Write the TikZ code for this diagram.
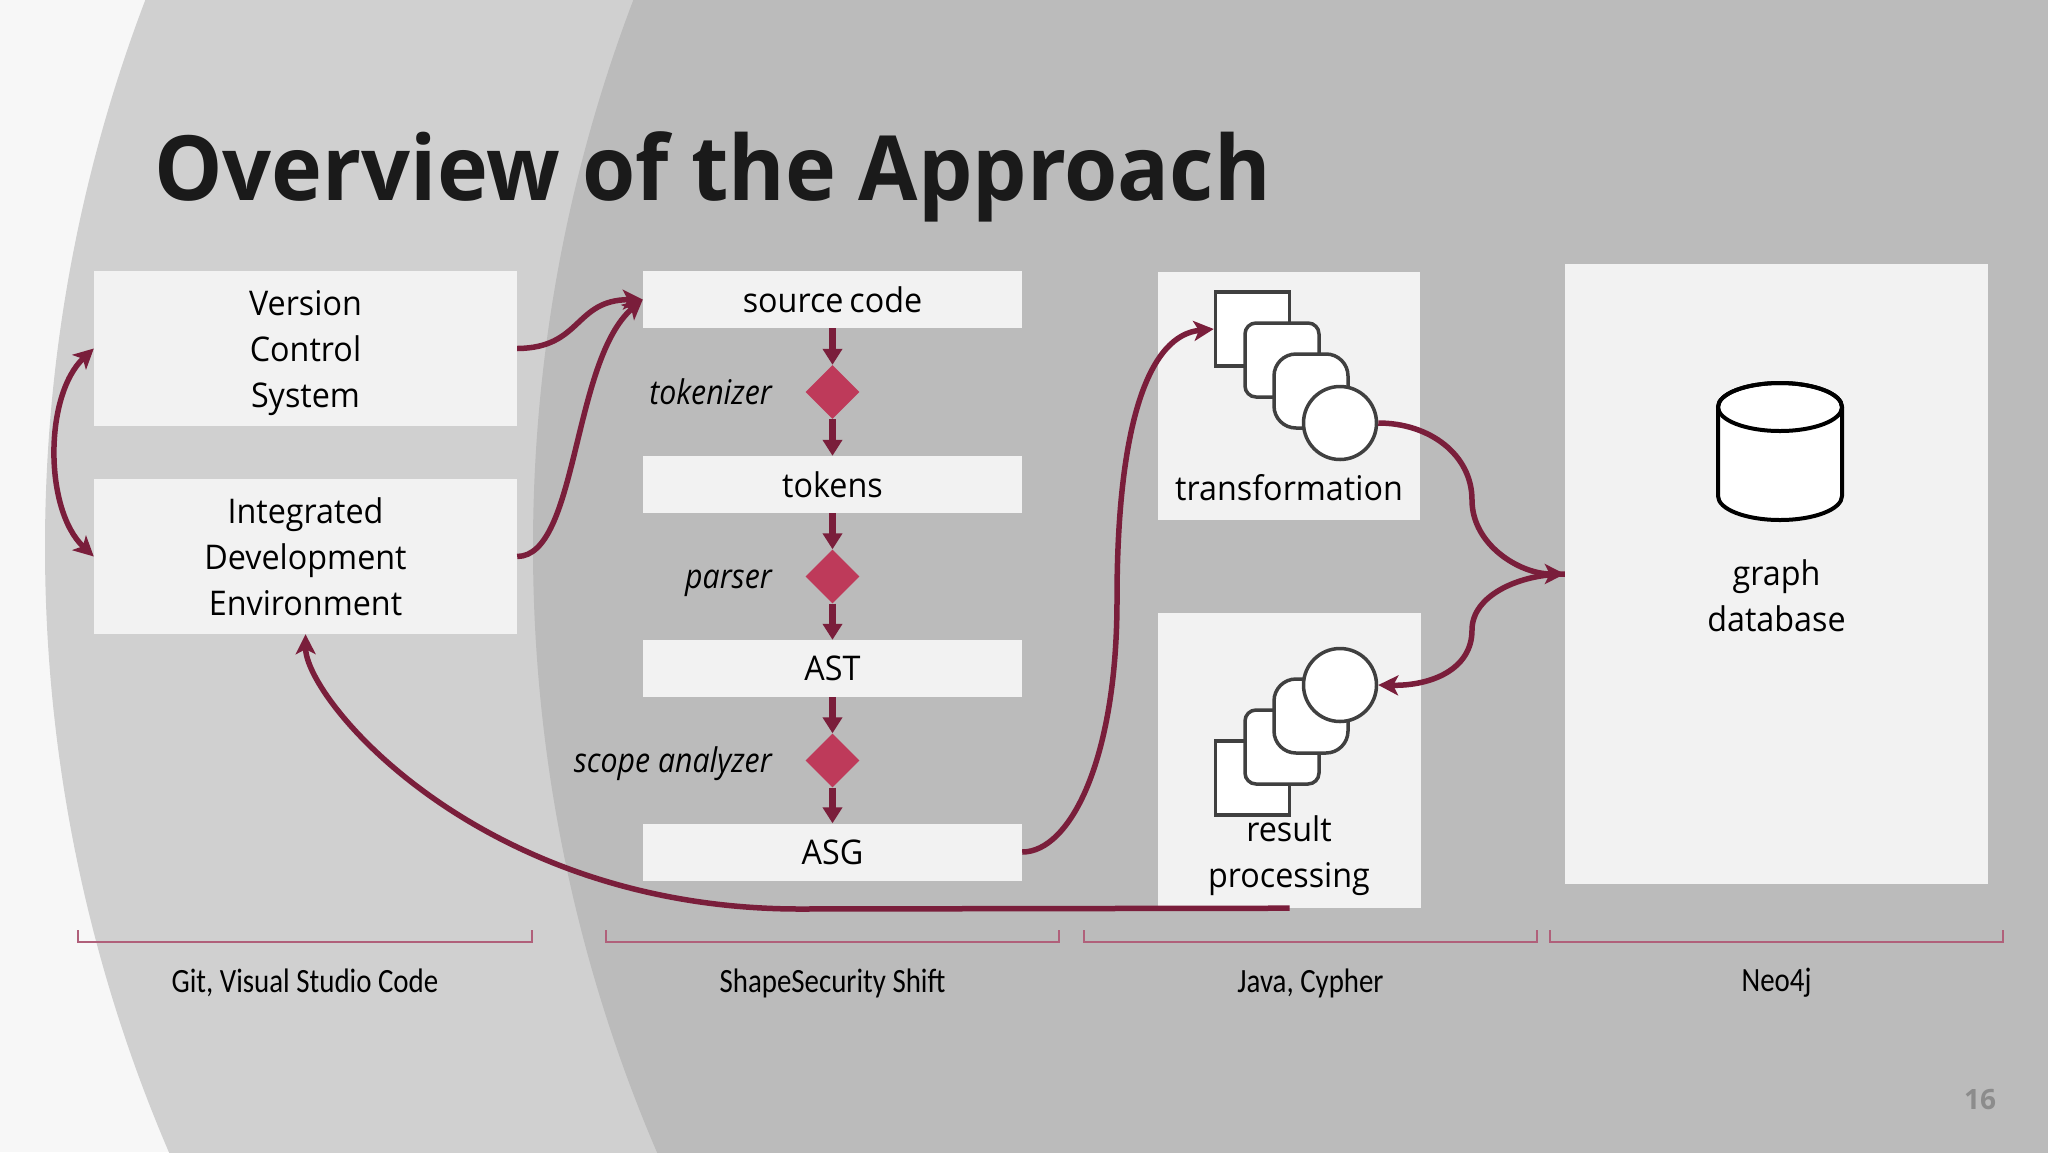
\documentclass[tikz,border=0pt]{standalone}
\usepackage{fontspec}
\setmainfont{Open Sans}[FakeStretch=0.95, WordSpace=0.7]
\newfontfamily\stagefont{Open Sans}[FakeStretch=0.89]
\newfontfamily\titlefont{Open Sans}[FakeStretch=0.957]
\newfontfamily\pagefont{Open Sans}
\newfontfamily\labelfont{Carlito}[FakeStretch=0.85]
\usetikzlibrary{arrows.meta,shapes.geometric}
\definecolor{bgwhite}{HTML}{F7F7F7}
\definecolor{bglight}{HTML}{D0D0D0}
\definecolor{bgdark}{HTML}{BBBBBB}
\definecolor{boxfill}{HTML}{F2F2F2}
\definecolor{wine}{HTML}{7A1E3B}
\definecolor{diafill}{HTML}{BE3A5A}
\definecolor{brk}{HTML}{B0607A}
\definecolor{icongray}{HTML}{404040}
\definecolor{titletext}{HTML}{1A1A1A}
\begin{document}
\begin{tikzpicture}[x=1pt,y=-1pt,
  panel/.style={fill=boxfill, draw=none, inner sep=0pt, align=center,
    font=\fontsize{34}{46}\selectfont, text=black},
  diam/.style={diamond, fill=diafill, draw=none, minimum width=54pt, minimum height=54pt, inner sep=0pt},
  stagelbl/.style={anchor=east, inner sep=0pt, text height=30pt, text depth=6pt,
    font=\stagefont\itshape\fontsize{34}{46}\selectfont, text=black},
  pipe/.style={draw=wine, line width=7pt, -{Triangle[width=19pt,length=16pt]}},
  conn/.style={draw=wine, line width=5.5pt, -{Stealth[width=20pt,length=20pt,inset=5pt]}},
  conn2/.style={draw=wine, line width=5.5pt, {Stealth[width=20pt,length=20pt,inset=5pt]}-{Stealth[width=20pt,length=20pt,inset=5pt]}},
  txt/.style={inner sep=0pt, align=center, font=\fontsize{34}{46}\selectfont, text=black},
  sq/.style={rectangle, draw=icongray, fill=white, line width=3.5pt, minimum width=74pt, minimum height=74pt, inner sep=0pt},
  rsq/.style={sq, rounded corners=11pt},
  rsqb/.style={sq, rounded corners=22pt},
  circ/.style={circle, draw=icongray, fill=white, line width=3.5pt, minimum size=73pt, inner sep=0pt},
  brace/.style={draw=brk, line width=1.6pt},
  foot/.style={inner sep=0pt, font=\labelfont\fontsize{34}{40}\selectfont, text=black}
]
% background
\useasboundingbox (0,0) rectangle (2048,1152);
\begin{scope}
\clip (0,0) rectangle (2048,1152);
\fill[bgwhite] (0,0) rectangle (2048,1152);
\fill[bglight] (1580,547) circle[radius=1535pt];
\fill[bgdark] (2068,547) circle[radius=1535pt];
\end{scope}

% title
\node[anchor=base west, inner sep=0pt, text=titletext,
  font=\titlefont\bfseries\fontsize{90}{100}\selectfont] (title) at (154,200) {Overview of the Approach};

% left boxes
\node[panel, minimum width=423pt, minimum height=155pt] (vcs) at (305.5,348.5) {};
\node[txt] (vcstxt) at (305.5,353.5) {Version\\Control\\System};
\node[panel, minimum width=423pt, minimum height=155pt] (ide) at (305.5,556.5) {Integrated\\Development\\Environment};

% pipeline
\node[panel, minimum width=379pt, minimum height=57pt] (src) at (832.5,299.5) {source code};
\node[panel, minimum width=379pt, minimum height=57pt] (tok) at (832.5,484.5) {tokens};
\node[panel, minimum width=379pt, minimum height=57pt] (ast) at (832.5,668.5) {AST};
\node[panel, minimum width=379pt, minimum height=57pt] (asg) at (832.5,852) {ASG};
\node[diam] (d1) at (832.5,392) {};
\node[diam] (d2) at (832.5,576.5) {};
\node[diam] (d3) at (832.5,760.5) {};
\node[stagelbl] (l1) at (772,392) {tokenizer};
\node[stagelbl] (l2) at (772,576.5) {parser};
\node[stagelbl] (l3) at (772,760.5) {scope analyzer};
\draw[pipe] (src.south) -- (d1.north);
\draw[pipe] (d1.south) -- (tok.north);
\draw[pipe] (tok.south) -- (d2.north);
\draw[pipe] (d2.south) -- (ast.north);
\draw[pipe] (ast.south) -- (d3.north);
\draw[pipe] (d3.south) -- (asg.north);

% transformation
\node[panel, minimum width=262pt, minimum height=248pt] (trbox) at (1289,396) {};
\node[sq] (t1) at (1252.5,329) {};
\node[rsq] (t2) at (1282,360) {};
\node[rsqb] (t3) at (1311,391) {};
\node[circ] (t4) at (1340,423) {};
\node[txt] (trtxt) at (1289,488) {transformation};

% result processing
\node[panel, minimum width=263pt, minimum height=295pt] (rpbox) at (1289.5,760.5) {};
\node[sq] (r1) at (1252.5,778) {};
\node[rsq] (r2) at (1282,747) {};
\node[rsqb] (r3) at (1311,716) {};
\node[circ] (r4) at (1340,685) {};
\node[txt] (rptxt) at (1289,855.5) {result\\processing};

% graph database
\node[panel, minimum width=423pt, minimum height=620pt] (dbbox) at (1776.5,574) {};
\filldraw[fill=white, draw=black, line width=4pt, line join=round]
  (1718,407) -- (1718,496) arc[start angle=180, end angle=0, x radius=62, y radius=24]
  -- (1842,407) arc[start angle=0, end angle=-180, x radius=62, y radius=24] -- cycle;
\draw[black, line width=4pt] (1780,407) ellipse[x radius=62, y radius=24];
\node[txt] (dbtxt) at (1776.5,596) {graph\\database};

% connectors
\draw[conn2] (vcs.west) .. controls (44,395) and (44,510) .. (ide.west);
\draw[conn] (vcs.east) .. controls (582,348) and (574,300) .. (src.west);
\draw[conn] (ide.east) .. controls (578,556) and (572,360) .. (src.west);
\coordinate (asgmid) at (1117,600);
\draw[conn] (asg.east) .. controls (1070,852) and (1117,760) .. (asgmid)
  .. controls (1117,420) and (1150,335) .. (t1.west);
\coordinate (upmid) at (1472,500);
\draw[conn] (t4.east) .. controls (1430,423) and (1472,455) .. (upmid)
  .. controls (1472,545) and (1520,574) .. (dbbox.west);
\coordinate (lowmid) at (1472,630);
\draw[conn] (dbbox.west) .. controls (1520,574) and (1472,595) .. (lowmid)
  .. controls (1472,670) and (1430,686) .. (r4.east);
\coordinate (bend) at (800,909);
\draw[conn] (rpbox.south) -- (bend) .. controls (480,909) and (306,700) .. (ide.south);

% brackets and footers
\draw[brace] (78,930) -- (78,942) -- (532,942) -- (532,930);
\draw[brace] (606,930) -- (606,942) -- (1059,942) -- (1059,930);
\draw[brace] (1084,930) -- (1084,942) -- (1537,942) -- (1537,930);
\draw[brace] (1550,930) -- (1550,942) -- (2003,942) -- (2003,930);
\node[foot] (f1) at (305,983) {Git, Visual Studio Code};
\node[foot] (f2) at (832.5,983) {ShapeSecurity Shift};
\node[foot] (f3) at (1310.5,983) {Java, Cypher};
\node[foot] (f4) at (1776.5,983) {Neo4j};
\node[inner sep=0pt, text=black!45, font=\pagefont\bfseries\fontsize{28}{32}\selectfont] (pg) at (1980,1100) {16};
\end{tikzpicture}
\end{document}
